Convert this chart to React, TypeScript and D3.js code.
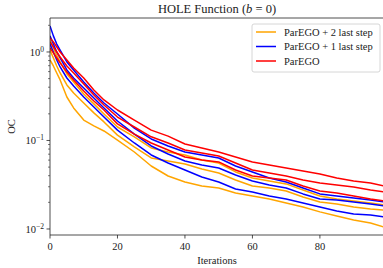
import React from "react";
import * as d3 from "d3";

const iterations = [0, 1, 2, 3, 5, 7, 10, 13, 16, 20, 25, 30, 35, 40, 45, 50, 55, 60, 65, 70, 75, 80, 85, 90, 95, 99];

// ParEGO + 2 last step
const plus2Hi = [1.37, 1.11, 0.913, 0.771, 0.564, 0.458, 0.335, 0.259, 0.199, 0.142, 0.11, 0.0823, 0.0741, 0.0686, 0.0602, 0.0557, 0.0441, 0.0377, 0.0349, 0.0323, 0.0276, 0.0236, 0.0218, 0.0207, 0.0197, 0.0187];
const plus2Mid = [1.05, 0.855, 0.695, 0.579, 0.424, 0.344, 0.265, 0.205, 0.162, 0.115, 0.0845, 0.0634, 0.0587, 0.0543, 0.0476, 0.0429, 0.0358, 0.0306, 0.0291, 0.0269, 0.023, 0.0202, 0.0192, 0.0177, 0.0168, 0.0164];
const plus2Lo = [0.812, 0.695, 0.579, 0.483, 0.31, 0.233, 0.17, 0.146, 0.128, 0.101, 0.0741, 0.0515, 0.0397, 0.034, 0.0306, 0.0291, 0.0255, 0.0236, 0.0218, 0.0197, 0.0177, 0.0156, 0.014, 0.0126, 0.0117, 0.0105];

// ParEGO + 1 last step
const plus1Hi = [1.97, 1.52, 1.23, 1.05, 0.771, 0.626, 0.458, 0.344, 0.265, 0.199, 0.138, 0.104, 0.0867, 0.0741, 0.0686, 0.0634, 0.0515, 0.0441, 0.0377, 0.034, 0.0291, 0.0249, 0.0236, 0.0224, 0.0213, 0.0202];
const plus1Mid = [1.52, 1.23, 1.0, 0.855, 0.626, 0.508, 0.392, 0.302, 0.233, 0.166, 0.118, 0.0867, 0.0704, 0.0587, 0.0529, 0.0489, 0.0408, 0.0349, 0.0314, 0.0291, 0.0249, 0.0218, 0.0213, 0.0202, 0.0192, 0.0182];
const plus1Lo = [1.23, 1.0, 0.812, 0.677, 0.508, 0.413, 0.31, 0.239, 0.184, 0.131, 0.0937, 0.0686, 0.0557, 0.0464, 0.0387, 0.034, 0.0283, 0.0262, 0.0236, 0.0218, 0.0197, 0.0177, 0.016, 0.0148, 0.0144, 0.0137];

// ParEGO
const paregoHi = [1.44, 1.3, 1.14, 1.0, 0.812, 0.66, 0.508, 0.372, 0.287, 0.221, 0.17, 0.131, 0.112, 0.0913, 0.0823, 0.0741, 0.0651, 0.0572, 0.0529, 0.0489, 0.0452, 0.0418, 0.0377, 0.0349, 0.0331, 0.0306];
const paregoMid = [1.3, 1.14, 1.0, 0.878, 0.695, 0.579, 0.435, 0.327, 0.252, 0.184, 0.142, 0.11, 0.0937, 0.0781, 0.0722, 0.0668, 0.0557, 0.0464, 0.0429, 0.0397, 0.0358, 0.0331, 0.0314, 0.0298, 0.0276, 0.0262];
const paregoLo = [1.11, 0.975, 0.855, 0.752, 0.595, 0.483, 0.363, 0.279, 0.221, 0.154, 0.118, 0.0937, 0.0781, 0.0651, 0.0602, 0.0572, 0.0464, 0.0397, 0.0377, 0.0358, 0.0306, 0.0269, 0.0255, 0.0236, 0.0218, 0.0207];

const xTicks = [0, 20, 40, 60, 80];
const yMajor = [1, 0.1, 0.01];
const yMajorExp = ["0", "\u22121", "\u22122"];
const legendLabels = ["ParEGO + 2 last step", "ParEGO + 1 last step", "ParEGO"];
const colors = ["orange", "blue", "red"];

const width = 383;
const height = 268;
const font = "'Liberation Serif', 'DejaVu Serif', serif";

export default function App() {
  const margin = { left: 50, right: -1, top: 18, bottom: 33 };
  const x = d3.scaleLinear().domain([0, 99]).range([margin.left, width - margin.right]);
  const y = d3.scaleLog().domain([0.00855, 2.42]).range([height - margin.bottom, margin.top]);

  const line = d3
    .line<number>()
    .x((_, i) => x(iterations[i]))
    .y(d => y(d));

  const groups = [
    { color: colors[0], series: [plus2Hi, plus2Mid, plus2Lo] },
    { color: colors[1], series: [plus1Hi, plus1Mid, plus1Lo] },
    { color: colors[2], series: [paregoHi, paregoMid, paregoLo] }
  ];

  const minor: number[] = [];
  [0.01, 0.1, 1].forEach(base => {
    for (let k = 2; k <= 9; k++) {
      const v = base * k;
      if (v > y.domain()[0] && v < y.domain()[1]) minor.push(v);
    }
  });

  const bottom = height - margin.bottom;
  const left = margin.left;
  const right = width - margin.right;
  const top = margin.top;

  return (
    <svg
      width={width}
      height={height}
      style={{ position: "absolute", left: 0, top: 0, background: "white" }}
      fontFamily={font}
    >
      <defs>
        <clipPath id="plot">
          <rect x={left} y={top} width={right - left} height={bottom - top} />
        </clipPath>
      </defs>

      <g clipPath="url(#plot)">
        {groups.map(g =>
          g.series.map((s, j) => (
            <path
              key={g.color + j}
              d={line(s) || ""}
              fill="none"
              stroke={g.color}
              strokeWidth={1.5}
              strokeLinejoin="round"
            />
          ))
        )}
      </g>

      {/* spines */}
      <line x1={left} x2={left} y1={top} y2={bottom} stroke="#222" strokeWidth={0.8} />
      <line x1={left} x2={right} y1={bottom} y2={bottom} stroke="#222" strokeWidth={0.8} />
      <line x1={left} x2={right} y1={top} y2={top} stroke="#222" strokeWidth={0.8} />
      <line x1={right} x2={right} y1={top} y2={bottom} stroke="#222" strokeWidth={0.8} />

      {/* x axis */}
      {xTicks.map(t => (
        <g key={t} transform={`translate(${x(t)},${bottom})`}>
          <line y2={3.5} stroke="#222" strokeWidth={0.8} />
          <text y={15} textAnchor="middle" fontSize={10.5} fill="#222">
            {t}
          </text>
        </g>
      ))}
      <text x={(left + right) / 2} y={264} textAnchor="middle" fontSize={10.5} fill="#222">
        Iterations
      </text>

      {/* y axis */}
      {yMajor.map((v, i) => (
        <g key={v} transform={`translate(${left},${y(v)})`}>
          <line x2={-3.5} stroke="#222" strokeWidth={0.8} />
          <text x={-6} dy="0.35em" textAnchor="end" fontSize={10.5} fill="#222">
            10
            <tspan dy={-4} fontSize={7.5}>
              {yMajorExp[i]}
            </tspan>
          </text>
        </g>
      ))}
      {minor.map(v => (
        <line key={v} x1={left} x2={left - 2} y1={y(v)} y2={y(v)} stroke="#222" strokeWidth={0.6} />
      ))}
      <text
        transform={`translate(15,${(top + bottom) / 2}) rotate(-90)`}
        textAnchor="middle"
        fontSize={10.5}
        fill="#222"
      >
        OC
      </text>

      {/* title */}
      <text x={(left + right) / 2} y={13} textAnchor="middle" fontSize={12.5} fill="#222">
        HOLE Function (<tspan fontStyle="italic">b</tspan> = 0)
      </text>

      {/* legend */}
      <g transform="translate(252,24)">
        <rect width={128} height={48} rx={2} fill="white" fillOpacity={0.85} stroke="#ccc" strokeWidth={0.8} />
        {legendLabels.map((lab, i) => (
          <g key={lab} transform={`translate(0,${8 + i * 14.5})`}>
            <line x1={4} x2={24} stroke={colors[i]} strokeWidth={1.5} />
            <text x={32} dy="0.35em" fontSize={10.5} fill="#222">
              {lab}
            </text>
          </g>
        ))}
      </g>
    </svg>
  );
}
